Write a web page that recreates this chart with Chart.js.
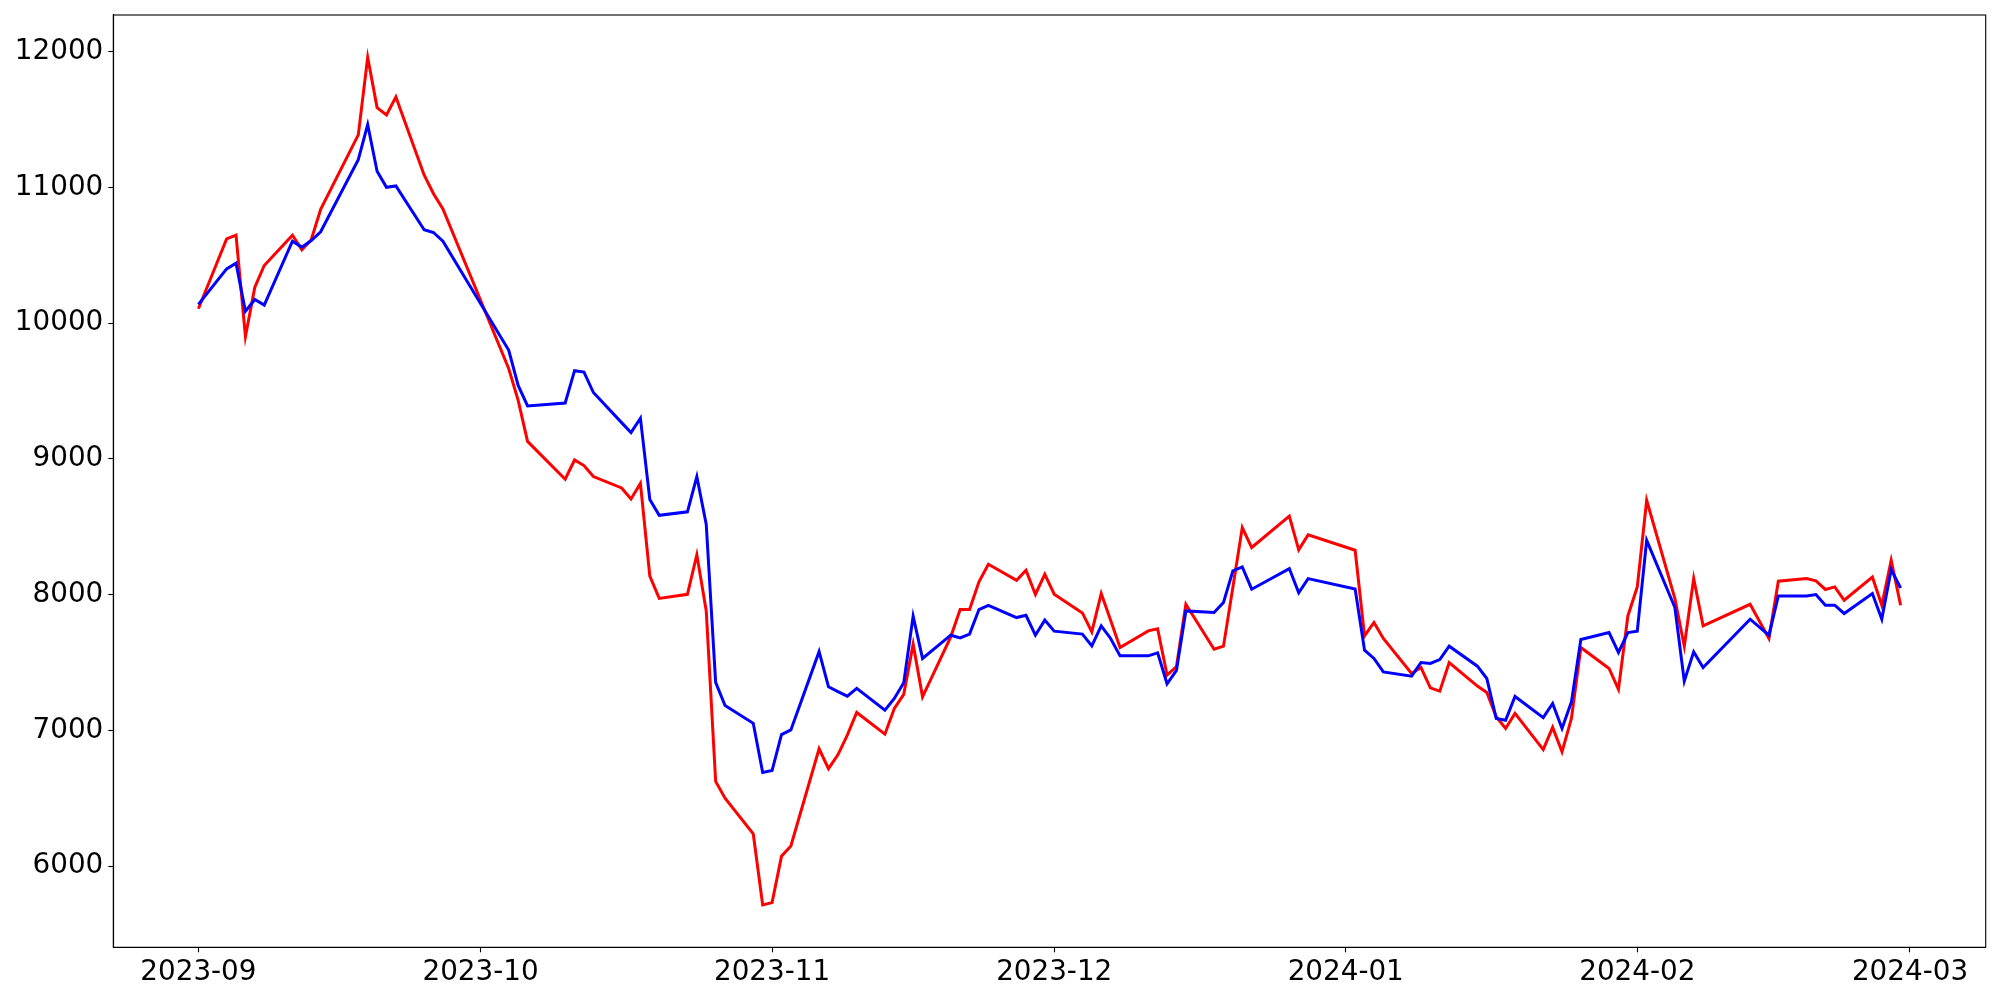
<!DOCTYPE html>
<html>
<head>
<meta charset="utf-8">
<script src="https://cdn.jsdelivr.net/npm/chart.js@4.4.1/dist/chart.umd.min.js"></script>
<style>
  html, body { margin: 0; padding: 0; background: #ffffff; }
  #wrap { width: 2000px; height: 1000px; }
</style>
</head>
<body>
<div id="wrap"><canvas id="c" width="2000" height="1000"></canvas></div>
<script>
// ---- data ----
const dates = [
  '2023-09-01','2023-09-04','2023-09-05','2023-09-06','2023-09-07','2023-09-08',
  '2023-09-11','2023-09-12','2023-09-13','2023-09-14','2023-09-18','2023-09-19',
  '2023-09-20','2023-09-21','2023-09-22','2023-09-25','2023-09-26','2023-09-27',
  '2023-10-04','2023-10-05','2023-10-06','2023-10-10','2023-10-11','2023-10-12',
  '2023-10-13','2023-10-16','2023-10-17','2023-10-18','2023-10-19','2023-10-20',
  '2023-10-23','2023-10-24','2023-10-25','2023-10-26','2023-10-27','2023-10-30',
  '2023-10-31','2023-11-01','2023-11-02','2023-11-03','2023-11-06','2023-11-07',
  '2023-11-08','2023-11-09','2023-11-10','2023-11-13','2023-11-14','2023-11-15',
  '2023-11-16','2023-11-17','2023-11-20','2023-11-21','2023-11-22','2023-11-23',
  '2023-11-24','2023-11-27','2023-11-28','2023-11-29','2023-11-30','2023-12-01',
  '2023-12-04','2023-12-05','2023-12-06','2023-12-07','2023-12-08','2023-12-11',
  '2023-12-12','2023-12-13','2023-12-14','2023-12-15','2023-12-18','2023-12-19',
  '2023-12-20','2023-12-21','2023-12-22','2023-12-26','2023-12-27','2023-12-28',
  '2024-01-02','2024-01-03','2024-01-04','2024-01-05','2024-01-08','2024-01-09',
  '2024-01-10','2024-01-11','2024-01-12','2024-01-15','2024-01-16','2024-01-17',
  '2024-01-18','2024-01-19','2024-01-22','2024-01-23','2024-01-24','2024-01-25',
  '2024-01-26','2024-01-29','2024-01-30','2024-01-31','2024-02-01','2024-02-02',
  '2024-02-05','2024-02-06','2024-02-07','2024-02-08','2024-02-13','2024-02-15',
  '2024-02-16','2024-02-19','2024-02-20','2024-02-21','2024-02-22','2024-02-23',
  '2024-02-26','2024-02-27','2024-02-28','2024-02-29'
];

const redValues = [
  10106,10621,10648,9902,10265,10425,
  10648,10540,10614,10839,11387,11958,
  11588,11534,11667,11092,10953,10842,
  9664,9431,9129,8850,8992,8951,
  8870,8786,8705,8819,8136,7972,
  8002,8294,7880,6624,6500,6237,
  5714,5731,6072,6148,6864,6718,
  6820,6965,7132,6972,7162,7265,
  7635,7247,7689,7890,7890,8094,
  8224,8106,8180,8001,8150,8003,
  7865,7726,8008,7812,7611,7733,
  7748,7407,7470,7929,7598,7620,
  8055,8494,8347,8578,8330,8440,
  8327,7696,7795,7677,7419,7463,
  7313,7289,7500,7326,7279,7100,
  7014,7125,6858,7022,6842,7088,
  7611,7456,7302,7843,8057,8695,
  7971,7620,8119,7770,7929,7677,
  8099,8119,8101,8038,8057,7959,
  8130,7922,8253,7922
];

const blueValues = [
  10138,10400,10442,10088,10174,10133,
  10604,10560,10609,10673,11205,11463,
  11119,11001,11011,10688,10668,10604,
  9800,9541,9390,9412,9650,9640,
  9489,9267,9194,9300,8701,8584,
  8610,8870,8517,7354,7183,7052,
  6690,6704,6969,7003,7580,7321,
  7285,7252,7309,7149,7235,7350,
  7841,7530,7701,7681,7709,7890,
  7920,7831,7848,7701,7812,7731,
  7709,7622,7770,7677,7549,7549,
  7571,7343,7442,7880,7868,7942,
  8175,8204,8040,8192,8013,8118,
  8042,7591,7530,7431,7399,7500,
  7493,7522,7620,7473,7382,7088,
  7075,7250,7094,7198,7014,7210,
  7669,7721,7574,7721,7731,8400,
  7905,7363,7578,7463,7819,7701,
  7990,7990,8001,7922,7922,7861,
  8008,7819,8185,8049
];

const monthTicks = ['2023-09','2023-10','2023-11','2023-12','2024-01','2024-02','2024-03'];
const yTicks = [6000, 7000, 8000, 9000, 10000, 11000, 12000];

// ---- helpers ----
const ORIGIN = Date.UTC(2023, 8, 1);
function dayIndex(s) {
  const p = s.split('-').map(Number);
  return (Date.UTC(p[0], p[1] - 1, p[2] || 1) - ORIGIN) / 86400000;
}
const xs = dates.map(dayIndex);
const tickDays = monthTicks.map(dayIndex);
const tickLabelOf = {};
tickDays.forEach((d, i) => { tickLabelOf[d] = monthTicks[i]; });

// matplotlib-style 5% margins
const xMinD = Math.min(...xs), xMaxD = Math.max(...xs);
const xSpan = xMaxD - xMinD;
const allY = redValues.concat(blueValues);
const yMinD = Math.min(...allY), yMaxD = Math.max(...allY);
const ySpan = yMaxD - yMinD;

const FONT = { family: 'DejaVu Sans', size: 27.8 };

const framePlugin = {
  id: 'frame',
  afterDatasetsDraw(chart) {
    const a = chart.chartArea, ctx = chart.ctx;
    ctx.save();
    ctx.strokeStyle = '#000';
    ctx.lineWidth = 1.1;
    ctx.strokeRect(a.left, a.top, a.right - a.left, a.bottom - a.top);
    ctx.restore();
  }
};

new Chart(document.getElementById('c'), {
  type: 'line',
  data: {
    datasets: [
      {
        label: 'blue',
        data: xs.map((x, i) => ({ x: x, y: blueValues[i] })),
        borderColor: '#0000ff',
        borderWidth: 3,
        pointRadius: 0,
        tension: 0,
        fill: false
      },
      {
        label: 'red',
        data: xs.map((x, i) => ({ x: x, y: redValues[i] })),
        borderColor: '#ff0000',
        borderWidth: 3,
        pointRadius: 0,
        tension: 0,
        fill: false
      }
    ]
  },
  options: {
    responsive: false,
    animation: false,
    devicePixelRatio: 1,
    layout: { padding: { left: 0, right: 14.3, top: 15, bottom: 0 } },
    plugins: { legend: { display: false }, tooltip: { enabled: false } },
    scales: {
      x: {
        type: 'linear',
        min: xMinD - 0.05 * xSpan,
        max: xMaxD + 0.05 * xSpan,
        afterBuildTicks: (s) => { s.ticks = tickDays.map(v => ({ value: v })); },
        afterFit: (s) => { s.height = 52.7; s.paddingLeft = 0; s.paddingRight = 0; },
        ticks: {
          autoSkip: false,
          maxRotation: 0,
          minRotation: 0,
          color: '#000',
          font: FONT,
          padding: 4,
          callback: (v) => tickLabelOf[v] || ''
        },
        grid: {
          display: true,
          drawOnChartArea: false,
          drawTicks: true,
          tickLength: 5,
          tickColor: '#000',
          tickWidth: 1.1
        },
        border: { display: true, color: '#000', width: 1.1 }
      },
      y: {
        type: 'linear',
        min: yMinD - 0.05 * ySpan,
        max: yMaxD + 0.05 * ySpan,
        afterBuildTicks: (s) => { s.ticks = yTicks.map(v => ({ value: v })); },
        afterFit: (s) => { s.width = 113.3; s.paddingTop = 0; s.paddingBottom = 0; },
        ticks: {
          color: '#000',
          font: FONT,
          padding: 5,
          callback: (v) => String(v)
        },
        grid: {
          display: true,
          drawOnChartArea: false,
          drawTicks: true,
          tickLength: 5,
          tickColor: '#000',
          tickWidth: 1.1
        },
        border: { display: true, color: '#000', width: 1.1 }
      }
    }
  },
  plugins: [framePlugin]
});
</script>
</body>
</html>
